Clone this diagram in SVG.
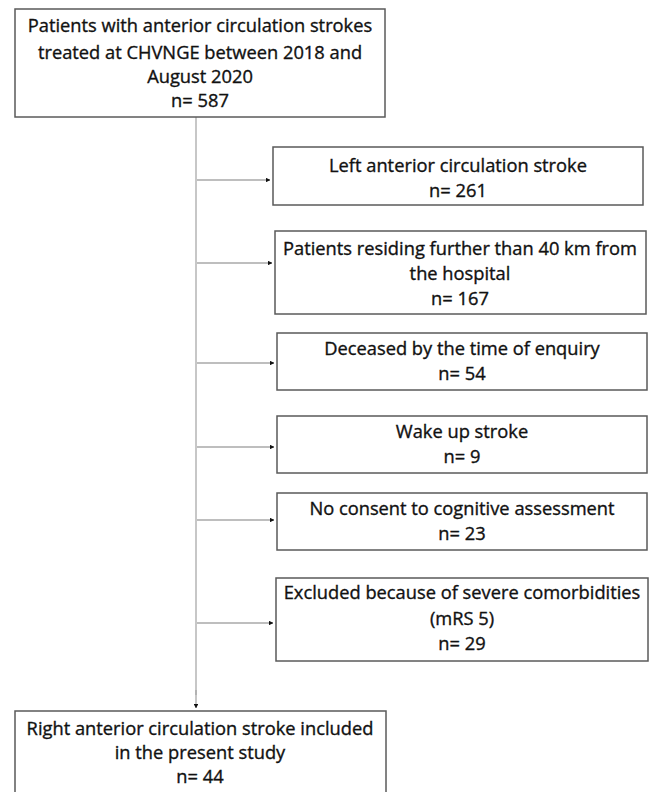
<svg xmlns="http://www.w3.org/2000/svg" width="651" height="792" viewBox="0 0 651 792">
<style>
  .box { fill: #ffffff; stroke: #5a5a5a; stroke-width: 1.5; }
  .t { font-family: "Open Sans", "Liberation Sans", sans-serif; font-size: 18.3px; fill: #111111; stroke: #111111; stroke-width: 0.35; text-anchor: middle; }
  .conn { stroke: #b4b4b4; stroke-width: 1.5; fill: none; }
  .arr { stroke: #a8a8a8; stroke-width: 1.3; fill: none; marker-end: url(#ah); }
</style>
<defs>
  <marker id="ah" viewBox="0 0 6 6" refX="5.5" refY="3" markerWidth="4.5" markerHeight="4.5" markerUnits="userSpaceOnUse" orient="auto">
    <path d="M0,0 L6,3 L0,6 Z" fill="#111111"/>
  </marker>
</defs>
<rect width="651" height="792" fill="#ffffff"/>

<g id="connectors">
  <line class="conn" x1="196" y1="117" x2="196" y2="695"/>
  <line class="arr" x1="196" y1="690" x2="196" y2="708"/>
  <line class="arr" x1="197" y1="180" x2="270" y2="180"/>
  <line class="arr" x1="197" y1="263" x2="272" y2="263"/>
  <line class="arr" x1="197" y1="363" x2="274" y2="363"/>
  <line class="arr" x1="197" y1="447" x2="274" y2="447"/>
  <line class="arr" x1="197" y1="520" x2="274" y2="520"/>
  <line class="arr" x1="197" y1="623" x2="273" y2="623"/>
</g>

<g id="n_total">
  <rect class="box" x="15" y="9" width="370" height="108"/>
  <text class="t" x="200" y="32">Patients with anterior circulation strokes</text>
  <text class="t" x="200" y="59">treated at CHVNGE between 2018 and</text>
  <text class="t" x="200" y="83">August 2020</text>
  <text class="t" x="200" y="107">n= 587</text>
</g>

<g id="n_left">
  <rect class="box" x="273" y="147" width="370" height="58"/>
  <text class="t" x="458" y="172">Left anterior circulation stroke</text>
  <text class="t" x="458" y="197">n= 261</text>
</g>

<g id="n_far">
  <rect class="box" x="275" y="231" width="371" height="83"/>
  <text class="t" x="460" y="255">Patients residing further than 40 km from</text>
  <text class="t" x="460" y="280">the hospital</text>
  <text class="t" x="460" y="305">n= 167</text>
</g>

<g id="n_deceased">
  <rect class="box" x="277" y="333" width="370" height="57"/>
  <text class="t" x="462" y="355">Deceased by the time of enquiry</text>
  <text class="t" x="462" y="380">n= 54</text>
</g>

<g id="n_wake">
  <rect class="box" x="277" y="416" width="370" height="57"/>
  <text class="t" x="462" y="438">Wake up stroke</text>
  <text class="t" x="462" y="463">n= 9</text>
</g>

<g id="n_consent">
  <rect class="box" x="277" y="493" width="370" height="57"/>
  <text class="t" x="462" y="515">No consent to cognitive assessment</text>
  <text class="t" x="462" y="540">n= 23</text>
</g>

<g id="n_comorb">
  <rect class="box" x="276" y="578" width="372" height="83"/>
  <text class="t" x="462" y="599">Excluded because of severe comorbidities</text>
  <text class="t" x="462" y="625">(mRS 5)</text>
  <text class="t" x="462" y="650">n= 29</text>
</g>

<g id="n_included">
  <rect class="box" x="15" y="711" width="371" height="95"/>
  <text class="t" x="200" y="735">Right anterior circulation stroke included</text>
  <text class="t" x="200" y="759">in the present study</text>
  <text class="t" x="200" y="783">n= 44</text>
</g>
</svg>
